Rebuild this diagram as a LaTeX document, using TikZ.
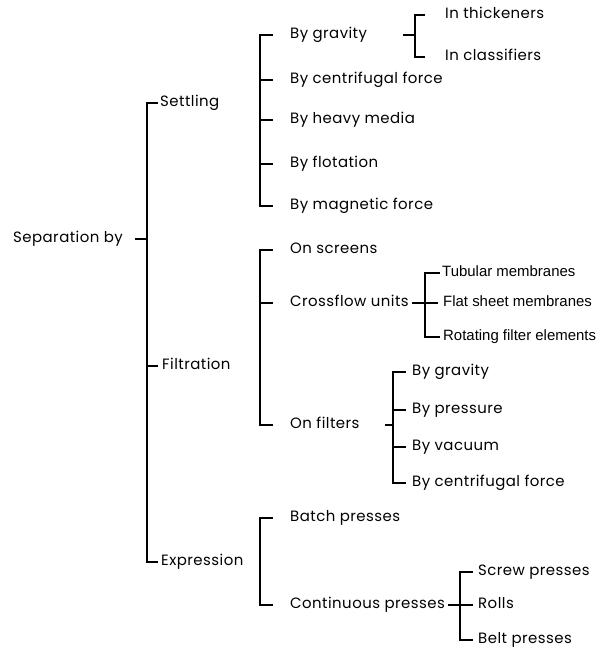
\documentclass[tikz,border=0pt]{standalone}
\usepackage{fontspec}
\setmainfont[LetterSpace=3]{Poppins}
\newfontfamily\arialfont{Liberation Sans}
\usetikzlibrary{positioning}

\tikzset{
  txt/.style={anchor=west, inner sep=0pt, text height=10pt, text depth=2pt,
              font=\fontsize{15}{17}\selectfont},
  atxt/.style={txt, font=\arialfont\fontsize{15}{17}\selectfont},
  brk/.style={line width=1.7pt, line cap=butt}
}

\begin{document}
\begin{tikzpicture}[x=1bp, y=-1bp]
    \useasboundingbox (0,0) rectangle (606,648);

    % level 0 and 1
    \node[txt] (sep)   at (13,239)  {Separation by};
    \node[txt] (settl) at (160,103) {Settling};
    \node[txt] (filt)  at (162,366) {Filtration};
    \node[txt] (expr)  at (161,562) {Expression};

    % settling
    \node[txt] (grav)  at (290,35)  {By gravity};
    \node[txt] (cent)  at (290,80)  {By centrifugal force};
    \node[txt] (heavy) at (290,120) {By heavy media};
    \node[txt] (flot)  at (290,164) {By flotation};
    \node[txt] (magn)  at (290,206) {By magnetic force};
    \node[txt] (thick) at (445,15)  {In thickeners};
    \node[txt] (class) at (445,57)  {In classifiers};

    % filtration
    \node[txt] (scr)   at (290,250) {On screens};
    \node[txt] (cross) at (290,303) {Crossflow units};
    \node[txt] (onf)   at (290,425) {On filters};
    \node[atxt] (tub)  at (442,273) {Tubular membranes};
    \node[atxt] (flat) at (443,303) {Flat sheet membranes};
    \node[atxt] (rot)  at (443,337) {Rotating filter elements};
    \node[txt] (fgrav) at (412,372) {By gravity};
    \node[txt] (fpres) at (412,410) {By pressure};
    \node[txt] (fvac)  at (412,447) {By vacuum};
    \node[txt] (fcent) at (412,483) {By centrifugal force};

    % expression
    \node[txt] (batch) at (290,518) {Batch presses};
    \node[txt] (cont)  at (290,605) {Continuous presses};
    \node[txt] (screw) at (478,572) {Screw presses};
    \node[txt] (rolls) at (478,605) {Rolls};
    \node[txt] (belt)  at (478,640) {Belt presses};

    % bracket spines
    \coordinate (s0) at (147,0);
    \coordinate (s1) at (260,0);
    \coordinate (s2) at (415,0);
    \coordinate (s3) at (425,0);
    \coordinate (s4) at (393,0);
    \coordinate (s5) at (460,0);

    % main bracket
    \draw[brk] (sep.east -| s0) -- ++(-12,0);
    \draw[brk] (settl.west -| s0) ++(11,0) -- ++(-11,0) -- (expr.west -| s0) -- ++(11,0);
    \draw[brk] (filt.west -| s0) -- ++(11,0);

    % settling bracket
    \draw[brk] (grav.west -| s1) ++(13,0) -- ++(-13,0) -- (magn.west -| s1) -- ++(13,0);
    \foreach \n in {cent,heavy,flot}
        \draw[brk] (\n.west -| s1) -- ++(13,0);
    \draw[brk] (grav.west -| s2) -- ++(-12,0);
    \draw[brk] (thick.west -| s2) ++(10,0) -- ++(-10,0) -- (class.west -| s2) -- ++(10,0);

    % filtration bracket
    \draw[brk] (scr.west -| s1) ++(13,0) -- ++(-13,0) -- (onf.west -| s1) -- ++(13,0);
    \draw[brk] (cross.west -| s1) -- ++(13,0);
    \draw[brk] (cross.west -| s3) ++(-13,0) -- ++(26,0);
    \draw[brk] (tub.west -| s3) ++(15,0) -- ++(-15,0) -- (rot.west -| s3) -- ++(15,0);
    \draw[brk] (onf.west -| s4) -- ++(-8,0);
    \draw[brk] (fgrav.west -| s4) ++(13,0) -- ++(-13,0) -- (fcent.west -| s4) -- ++(13,0);
    \foreach \n in {fpres,fvac}
        \draw[brk] (\n.west -| s4) -- ++(13,0);

    % expression bracket
    \draw[brk] (batch.west -| s1) ++(13,0) -- ++(-13,0) -- (cont.west -| s1) -- ++(13,0);
    \draw[brk] (cont.west -| s5) -- ++(-12,0);
    \draw[brk] (screw.west -| s5) ++(13,0) -- ++(-13,0) -- (belt.west -| s5) -- ++(13,0);
    \draw[brk] (rolls.west -| s5) -- ++(13,0);
\end{tikzpicture}
\end{document}
